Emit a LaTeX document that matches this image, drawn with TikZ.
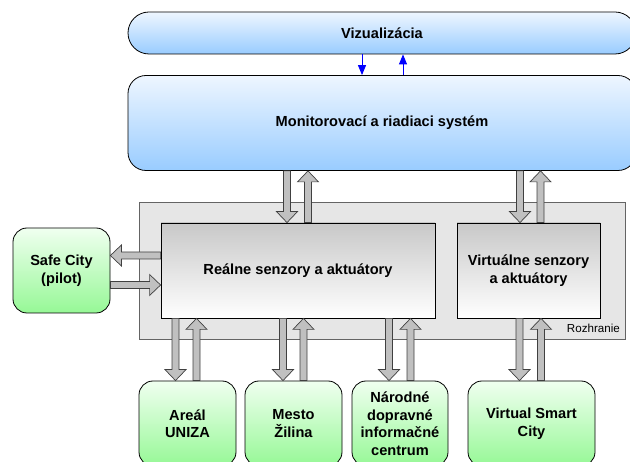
\documentclass[tikz,border=0pt]{standalone}
\usepackage{fontspec}
\setmainfont{Liberation Sans}
\usetikzlibrary{arrows.meta,calc}
\definecolor{blueTop}{RGB}{238,246,255}
\definecolor{blueBot}{RGB}{153,204,255}
\definecolor{greenTop}{RGB}{240,255,240}
\definecolor{greenBot}{RGB}{150,248,150}
\definecolor{grayTop}{RGB}{200,200,200}
\definecolor{arrowGray}{RGB}{192,192,192}
\definecolor{rozFill}{RGB}{230,230,230}
\definecolor{rozLine}{RGB}{100,100,100}
\newcommand\fatarrow[2]{%
  \draw[fat] let \p1=#1, \p2=#2, \p3=($(\p2)!11pt!(\p1)$) in
    ($(\p1)!3.5pt!90:(\p2)$) -- ($(\p3)!3.5pt!90:(\p2)$) -- ($(\p3)!10.5pt!90:(\p2)$) --
    (\p2) -- ($(\p3)!10.5pt!-90:(\p2)$) -- ($(\p3)!3.5pt!-90:(\p2)$) --
    ($(\p1)!3.5pt!-90:(\p2)$) -- cycle;}
\begin{document}
\begin{tikzpicture}[x=1pt,y=-1pt,
  box/.style={draw=black, line width=0.8pt, inner sep=0pt, align=center,
    font=\bfseries\fontsize{14.6}{17.5}\selectfont},
  bluebox/.style={box, top color=blueTop, bottom color=blueBot},
  greenbox/.style={box, rounded corners=14pt, top color=greenTop, bottom color=greenBot, minimum height=85pt},
  graybox/.style={box, top color=grayTop, bottom color=white, minimum height=95pt},
  fat/.style={fill=arrowGray, draw=black!75, line width=0.7pt, line join=miter},
  thinarrow/.style={draw=blue, line width=1pt, -{Triangle[length=10pt,width=8pt]}}
]
\useasboundingbox (0,0) rectangle (630,462);
\clip (0,0) rectangle (630,462);

\node[bluebox, rounded corners=21pt, minimum width=508pt, minimum height=42pt] (viz) at (382,33) {Vizualizácia};
\node[bluebox, rounded corners=18pt, minimum width=508pt, minimum height=95pt] (mon) at (382,123) {Monitorovací a riadiaci systém};

\node[draw=rozLine, fill=rozFill, line width=0.7pt, inner sep=0pt, minimum width=486pt, minimum height=137pt] (roz) at (382,270.5) {};
\node[anchor=east, inner sep=0pt, font=\fontsize{11.6}{14}\selectfont] (rozl) at (620,328) {Rozhranie};

\node[graybox, minimum width=274pt] (real) at (298,270.5) {Reálne senzory a aktuátory};
\node[graybox, minimum width=143pt] (virt) at (528.5,270.5) {Virtuálne senzory\\a aktuátory};

\node[greenbox, minimum width=97pt] (safe) at (61.5,270.5) {Safe City\\(pilot)};
\node[greenbox, minimum width=97pt] (areal) at (187.5,423.5) {Areál\\UNIZA};
\node[greenbox, minimum width=97pt] (mesto) at (293.5,423.5) {Mesto\\Žilina};
\node[greenbox, minimum width=96pt] (nar) at (400,423.5) {Národné\\dopravné\\informačné\\centrum};
\node[greenbox, minimum width=127pt] (vsc) at (531.5,423.5) {Virtual Smart\\City};

\draw[thinarrow] (362,0 |- viz.south) -- (362,0 |- mon.north);
\draw[thinarrow] (403,0 |- mon.north) -- (403,0 |- viz.south);

\fatarrow{(287,0 |- mon.south)}{(287,0 |- real.north)}
\fatarrow{(308,0 |- real.north)}{(308,0 |- mon.south)}
\fatarrow{(520,0 |- mon.south)}{(520,0 |- virt.north)}
\fatarrow{(540.5,0 |- virt.north)}{(540.5,0 |- mon.south)}

\fatarrow{(real.west |- 0,255.5)}{(safe.east |- 0,255.5)}
\fatarrow{(safe.east |- 0,285)}{(real.west |- 0,285)}

\fatarrow{(175.5,0 |- real.south)}{(175.5,0 |- areal.north)}
\fatarrow{(196.5,0 |- areal.north)}{(196.5,0 |- real.south)}
\fatarrow{(283,0 |- real.south)}{(283,0 |- mesto.north)}
\fatarrow{(303.5,0 |- mesto.north)}{(303.5,0 |- real.south)}
\fatarrow{(389,0 |- real.south)}{(389,0 |- nar.north)}
\fatarrow{(410.5,0 |- nar.north)}{(410.5,0 |- real.south)}
\fatarrow{(519.5,0 |- virt.south)}{(519.5,0 |- vsc.north)}
\fatarrow{(541,0 |- vsc.north)}{(541,0 |- virt.south)}
\end{tikzpicture}
\end{document}
